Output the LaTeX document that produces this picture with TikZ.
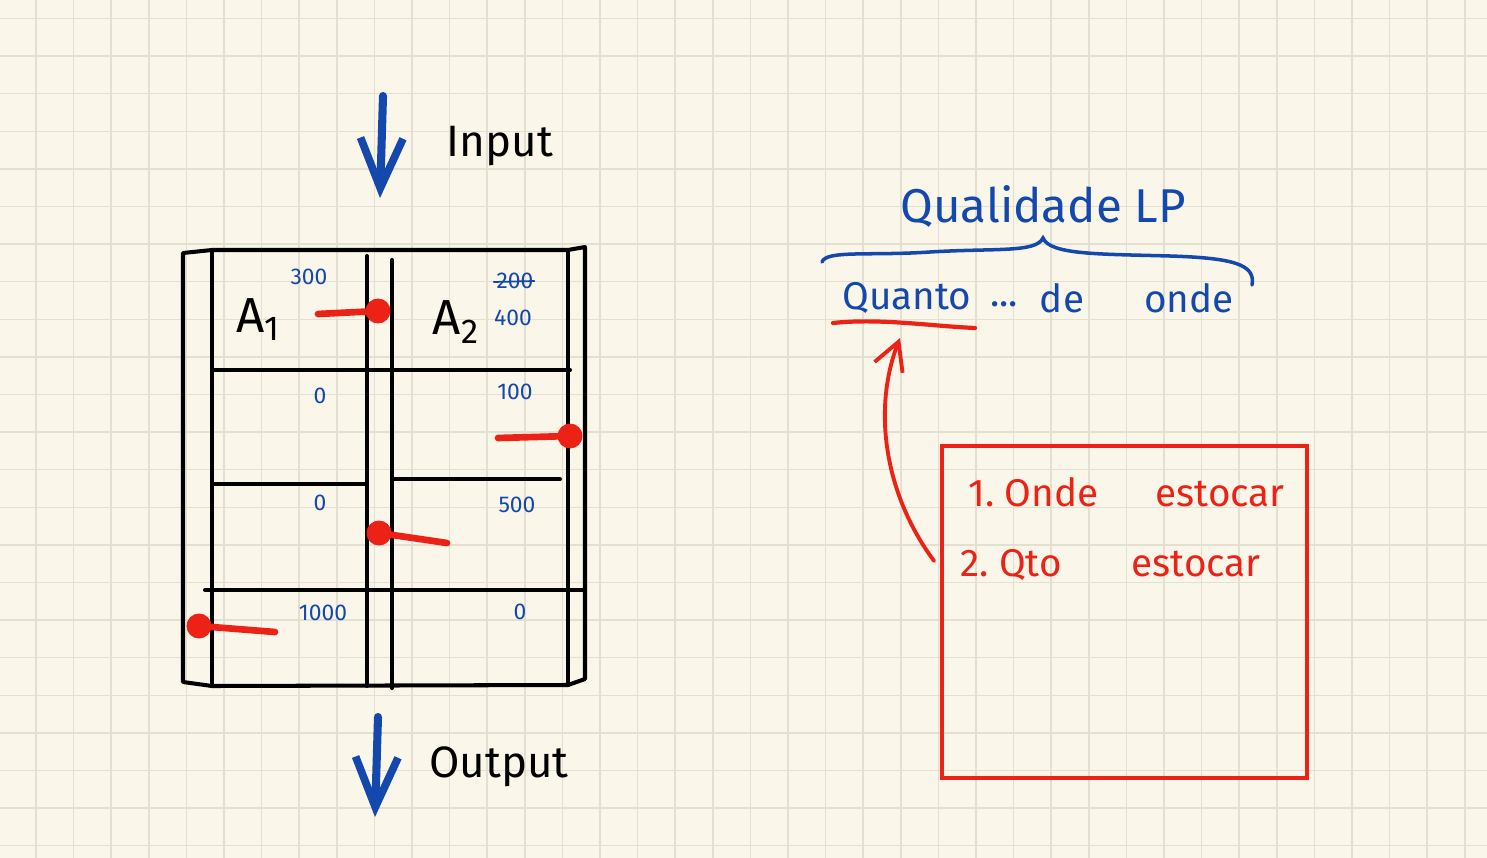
\documentclass[tikz,border=0pt]{standalone}
\usepackage{fontspec}
\setmainfont{Fira Sans}
\usepackage{tikz}
\usetikzlibrary{arrows.meta,positioning,calc}
\definecolor{paper}{RGB}{250,247,234}
\definecolor{gridc}{RGB}{227,224,210}
\definecolor{inkblue}{RGB}{20,72,172}
\definecolor{inkred}{RGB}{236,34,22}
\tikzset{
  gridline/.style={draw=gridc, line width=0.9pt},
  shelfline/.style={draw=black, line width=2.3pt, line cap=round, line join=round},
  qtylabel/.style={text=inkblue, font=\fontsize{13}{15}\selectfont, inner sep=0pt},
  arealabel/.style={text=black, font=\fontsize{28}{32}\selectfont, inner sep=0pt},
  flowlabel/.style={text=black, font=\fontsize{25}{30}\selectfont, inner sep=0pt},
  flowarrow/.style={draw=inkblue, line width=4.6pt, line cap=round, -{Straight Barb[length=10mm,width=8.5mm,line width=4.4pt]}},
  pickline/.style={draw=inkred, line width=3.8pt, line cap=round},
  pickdot/.style={circle, fill=inkred, minimum size=0.5cm, inner sep=0pt},
  titletext/.style={text=inkblue, font=\fontsize{27}{32}\selectfont, inner sep=0pt},
  asktext/.style={text=inkblue, font=\fontsize{22}{26}\selectfont, inner sep=0pt},
  bracestroke/.style={draw=inkblue, line width=2pt, line cap=round},
  notetext/.style={text=inkred, font=\fontsize{22}{26}\selectfont, inner sep=0pt, anchor=west},
  notebox/.style={draw=inkred, line width=2.2pt, minimum width=7.3cm, minimum height=6.64cm, inner sep=0pt},
  notearrow/.style={draw=inkred, line width=2.2pt, line cap=round, -{Straight Barb[length=5.5mm,width=6mm,line width=2.2pt]}}
}
\begin{document}
\begin{tikzpicture}[x=0.02cm, y=-0.02cm]
\useasboundingbox (0,0) rectangle (1487,858);
\fill[paper] (0,0) rectangle (1487,858);
\foreach \k in {0,...,38}
  \draw[gridline] ({36+37.6*\k},0) -- ++(0,858);
\foreach \k in {0,...,22}
  \draw[gridline] (0,{18.5+37.6*\k}) -- ++(1487,0);

\coordinate (inTop) at (383,96);
\coordinate (inEnd) at (380,198);
\coordinate (outTop) at (378,717);
\coordinate (outEnd) at (375,817);
\draw[flowarrow] (inTop) -- (inEnd);
\draw[flowarrow] (outTop) -- (outEnd);
\node[flowlabel] (input) at (500,146) {Input};
\node[flowlabel] (output) at (499,767) {Output};

\draw[shelfline] (183,253) -- (212,250) -- (568,250) -- (585,247) -- (585,679) -- (568,685) -- (212,686) -- (183,682) -- cycle;
\draw[shelfline] (212,250) -- (212,686);
\draw[shelfline] (568,250) -- (568,685);
\draw[shelfline] (367,256) -- (367,686);
\draw[shelfline] (392,260) -- (392,688);
\draw[shelfline] (212,370) -- (570,370);
\draw[shelfline] (212,484) -- (365,484);
\draw[shelfline] (393,479) -- (560,479);
\draw[shelfline] (205,590) -- (585,590);

\node[arealabel] (areaA) at (258,320) {A\textsubscript{1}};
\node[arealabel] (areaB) at (456,322) {A\textsubscript{2}};
\node[qtylabel] (q300) at (309,277) {300};
\node[qtylabel] (q200) at (515,281) {200};
\draw[draw=inkblue, line width=1pt] ($(q200.west)+(-3,1)$) -- ($(q200.east)+(1,0)$);
\node[qtylabel] (q400) at (513,318) {400};
\node[qtylabel] (q0a) at (320,396) {0};
\node[qtylabel] (q100) at (515,392) {100};
\node[qtylabel] (q0b) at (320,503) {0};
\node[qtylabel] (q500) at (517,505) {500};
\node[qtylabel] (q1000) at (323,613) {1000};
\node[qtylabel] (q0c) at (520,612) {0};

\node[pickdot] (pickA) at (378,311) {};
\node[pickdot] (pickB) at (570,436) {};
\node[pickdot] (pickC) at (379,533) {};
\node[pickdot] (pickD) at (199,626) {};
\draw[pickline] (pickA.center) -- ++(-60,3);
\draw[pickline] (pickB.center) -- ++(-72,2);
\draw[pickline] (pickC.center) -- ++(68,10);
\draw[pickline] (pickD.center) -- ++(76,6);

\node[titletext] (title) at (1043,206) {Qualidade LP};
\draw[bracestroke] (822,262) .. controls (826,250) and (870,256) .. (930,252)
  .. controls (995,248) and (1036,253) .. (1043,238)
  .. controls (1050,255) and (1100,254) .. (1170,256)
  .. controls (1232,258) and (1256,264) .. (1252,285);
\node[asktext] (quanto) at (907,298) {Quanto};
\node[asktext] (dots) at (1004,304) {...};
\node[asktext] (de) at (1062,298) {de};
\node[asktext] (onde) at (1189,298) {onde};
\coordinate (lineA) at (833,323);
\coordinate (lineB) at (975,328);
\coordinate (lineTip) at (900,338);
\draw[pickline, line width=2.4pt] (lineA) .. controls (880,318) and (930,326) .. (lineB);

\node[notebox] (stockbox) at (1124.5,612) {};
\node[notetext] (item1) at (968,492) {1.\ Onde\hspace{1.15cm}estocar};
\node[notetext] (item2) at (960,565) {2.\ Qto\hspace{1.4cm}estocar};
\draw[notearrow] ($(stockbox.west |- item2.west)+(-6,-4)$) .. controls (885,495) and (872,410) .. (lineTip);
\end{tikzpicture}
\end{document}
